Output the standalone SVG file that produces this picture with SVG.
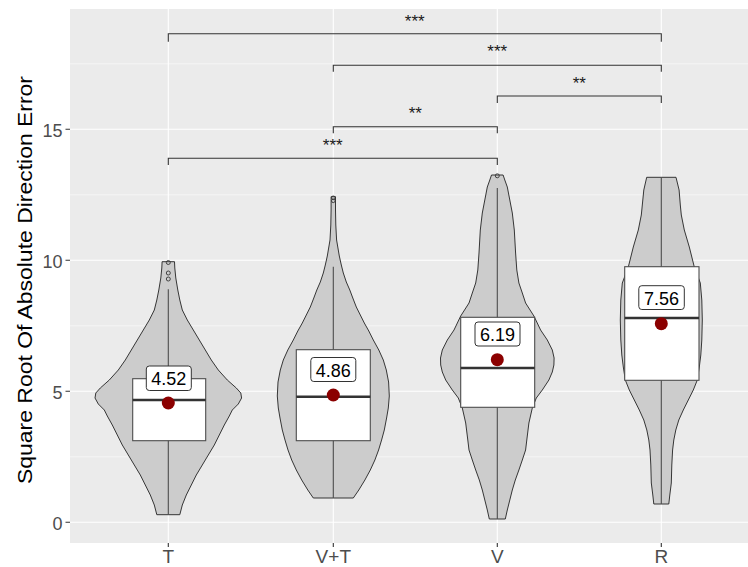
<svg xmlns="http://www.w3.org/2000/svg" width="748" height="567" viewBox="0 0 748 567">
<defs>
<style>
.grid-major{stroke:#FFFFFF;stroke-width:1.1;fill:none}
.grid-minor{stroke:#FFFFFF;stroke-width:0.55;fill:none}
.tick{stroke:#333333;stroke-width:1.1}
.ytxt{font-family:"Liberation Sans",Arial,sans-serif;font-size:18px;fill:#4D4D4D;text-anchor:end}
.xtxt{font-family:"Liberation Sans",Arial,sans-serif;font-size:19px;fill:#4D4D4D;text-anchor:middle}
.title{font-family:"Liberation Sans",Arial,sans-serif;font-size:20px;fill:#000000;text-anchor:middle}
.violin{fill:#CCCCCC;stroke:#222222;stroke-width:0.9;stroke-linejoin:round}
.whisker{stroke:#4D4D4D;stroke-width:1.1;fill:none}
.box{fill:#FFFFFF;stroke:#4D4D4D;stroke-width:1.1}
.median{stroke:#333333;stroke-width:2.6}
.mean{fill:#8B0000}
.outlier{fill:none;stroke:#333333;stroke-width:0.9}
.lblbox{fill:#FFFFFF;stroke:#333333;stroke-width:1}
.lbl{font-family:"Liberation Sans",Arial,sans-serif;font-size:18px;fill:#000000;text-anchor:middle}
.bracket{fill:none;stroke:#333333;stroke-width:1.1}
.sig{font-family:"Liberation Sans",Arial,sans-serif;font-size:17px;fill:#1A1A1A;text-anchor:middle}
</style>
<clipPath id="panelClip"><rect x="70" y="9" width="678" height="534"/></clipPath>
</defs>
<rect x="0" y="0" width="748" height="567" fill="#FFFFFF"/>
<g id="panel">
<rect x="70" y="9" width="678" height="534" fill="#EBEBEB"/>
<g clip-path="url(#panelClip)">
<path class="grid-minor" d="M70,456.8H748M70,325.8H748M70,194.8H748M70,63.8H748"/>
<path class="grid-major" d="M70,522.3H748M70,391.3H748M70,260.3H748M70,129.3H748"/>
<path class="grid-major" d="M168.3,9V543M333.3,9V543M497.3,9V543M661.3,9V543"/>
</g>
</g>
<g id="axes">
<path class="tick" d="M65.5,522.3H70M65.5,391.3H70M65.5,260.3H70M65.5,129.3H70"/>
<path class="tick" d="M168.3,543V547M333.3,543V547M497.3,543V547M661.3,543V547"/>
<text class="ytxt" x="62.5" y="530">0</text>
<text class="ytxt" x="62.5" y="399">5</text>
<text class="ytxt" x="62.5" y="268">10</text>
<text class="ytxt" x="62.5" y="137">15</text>
<text class="xtxt" x="168.3" y="562.5">T</text>
<text class="xtxt" x="333.3" y="562.5">V+T</text>
<text class="xtxt" x="497.3" y="562.5">V</text>
<text class="xtxt" x="661.3" y="562.5">R</text>
<text class="title" transform="translate(31.5,280) rotate(-90)" x="0" y="0" textLength="408" lengthAdjust="spacingAndGlyphs">Square Root Of Absolute Direction Error</text>
</g>
<g id="node-T">
<path class="violin" d="M162.1,261.7L161.8,268L160.8,278L158.8,290L156.8,300L154.3,310L149.3,320L143.3,330L137.3,340L131.3,350L125.3,360L118.3,370L109.3,380L100.3,388L95.8,393L95,398L98.3,404L104.3,410L107.3,416L112.3,425L117.3,435L122.3,445L128.3,455L134.3,465L140.3,475L145.3,485L150.3,495L154.3,505L156.8,514.7L179.8,514.7L182.3,505L186.3,495L191.3,485L196.3,475L202.3,465L208.3,455L214.3,445L219.3,435L224.3,425L229.3,416L232.3,410L238.3,404L241.6,398L240.8,393L236.3,388L227.3,380L218.3,370L211.3,360L205.3,350L199.3,340L193.3,330L187.3,320L182.3,310L179.8,300L177.8,290L175.8,278L174.8,268L174.5,261.7Z"/>
<path class="whisker" d="M168.3,289.3V514.7"/>
<circle class="outlier" cx="168.3" cy="262.5" r="2"/>
<circle class="outlier" cx="168.3" cy="273" r="2"/>
<circle class="outlier" cx="168.3" cy="279" r="2"/>
<rect class="box" x="132.7" y="378.7" width="73" height="62"/>
<path class="median" d="M132.7,400H205.7"/>
<circle class="mean" cx="168.3" cy="403" r="6.5"/>
<rect class="lblbox" x="146.3" y="366" width="45" height="24.5" rx="3"/>
<text class="lbl" x="168.8" y="385">4.52</text>
</g>
<g id="node-VT">
<path class="violin" d="M331.1,196.7L331.1,210L330.8,225L330,240L327.3,256L325.3,265L323.3,273L320.3,282L316.8,290L313.8,298L310.3,307L306.3,315L302.3,323L297.8,331L293.3,340L287.8,350L283.3,360L280.3,370L278,382L277.3,396L278.3,408L280,418L282.3,430L285,440L288,450L291.7,460L296.3,470L301.7,480L307.8,490L313.3,498L353.3,498L358.8,490L364.9,480L370.3,470L374.9,460L378.6,450L381.6,440L384.3,430L386.6,418L388.3,408L389.3,396L388.6,382L386.3,370L383.3,360L378.8,350L373.3,340L368.8,331L364.3,323L360.3,315L356.3,307L352.8,298L349.8,290L346.3,282L343.3,273L341.3,265L339.3,256L336.6,240L335.8,225L335.5,210L335.5,196.7Z"/>
<path class="whisker" d="M333.3,266.7V498"/>
<circle class="outlier" cx="333.3" cy="197.8" r="1.8"/>
<circle class="outlier" cx="333.3" cy="200.8" r="1.8"/>
<rect class="box" x="296.3" y="349.7" width="74" height="91"/>
<path class="median" d="M296.3,396.7H370.3"/>
<circle class="mean" cx="333.3" cy="395" r="6.5"/>
<rect class="lblbox" x="310.8" y="357.5" width="45" height="24" rx="3"/>
<text class="lbl" x="333.3" y="376.5">4.86</text>
</g>
<g id="node-V">
<path class="violin" d="M491.5,175L489.8,180L487.3,187L484.8,200L482.3,213L480.3,230L479,253L477.8,270L475.7,283L472.3,293L469,303L460.7,316L454,330L447.3,340L442.3,350L440.5,358L440.7,365L442.3,372L445.7,380L452.3,390L458.3,398L462.3,408L465.7,423L467.8,440L469,450L472.3,460L475.7,470L479.3,480L482.3,490L484.8,500L487.3,510L489.3,519L505.3,519L507.3,510L509.8,500L512.3,490L515.3,480L518.9,470L522.3,460L525.6,450L526.8,440L528.9,423L532.3,408L536.3,398L542.3,390L548.9,380L552.3,372L553.9,365L554.1,358L552.3,350L547.3,340L540.6,330L533.9,316L525.6,303L522.3,293L518.9,283L516.8,270L515.6,253L514.3,230L512.3,213L509.8,200L507.3,187L504.8,180L503.1,175Z"/>
<path class="whisker" d="M497.3,188V519"/>
<circle class="outlier" cx="497.3" cy="175.8" r="2"/>
<rect class="box" x="460.7" y="317.3" width="74" height="90"/>
<path class="median" d="M460.7,368H534.7"/>
<circle class="mean" cx="497.3" cy="359.7" r="6.5"/>
<rect class="lblbox" x="475" y="322" width="45" height="24" rx="3"/>
<text class="lbl" x="497.5" y="341">6.19</text>
</g>
<g id="node-R">
<path class="violin" d="M646.7,177.3L643.8,190L642.3,205L641.3,215L638.3,230L633.3,247L628.3,267L622.3,283L620.8,300L620.3,320L620.8,340L621.8,355L623.3,367L625.3,380L629.3,390L634.3,400L639.3,410L643.8,420L646.8,430L648.8,440L650,450L650.8,465L651.3,483L652.8,495L653.8,504L668.8,504L669.8,495L671.3,483L671.8,465L672.6,450L673.8,440L675.8,430L678.8,420L683.3,410L688.3,400L693.3,390L697.3,380L699.3,367L700.8,355L701.8,340L702.3,320L701.8,300L700.3,283L694.3,267L689.3,247L684.3,230L681.3,215L680.3,205L679.1,190L676,177.3Z"/>
<path class="whisker" d="M661.3,177.3V504"/>
<rect class="box" x="624.7" y="266.7" width="74.3" height="113.6"/>
<path class="median" d="M624.7,318H699"/>
<circle class="mean" cx="661.3" cy="323.7" r="6.5"/>
<rect class="lblbox" x="638.8" y="285.7" width="45.5" height="23.8" rx="3"/>
<text class="lbl" x="661.5" y="304.5">7.56</text>
</g>
<g id="connectors">
<path class="bracket" d="M168.3,41.7V33.7H661.3V41.7"/>
<path class="bracket" d="M333.3,71.7V65.3H661.3V71.7"/>
<path class="bracket" d="M497.3,103V96H661.3V103"/>
<path class="bracket" d="M333.3,133.3V126.7H497.3V133.3"/>
<path class="bracket" d="M168.3,165V158.3H497.3V165"/>
<text class="sig" x="414.8" y="27">***</text>
<text class="sig" x="497.3" y="57.3">***</text>
<text class="sig" x="579.3" y="89.3">**</text>
<text class="sig" x="415.3" y="119.3">**</text>
<text class="sig" x="332.8" y="151">***</text>
</g>
</svg>
